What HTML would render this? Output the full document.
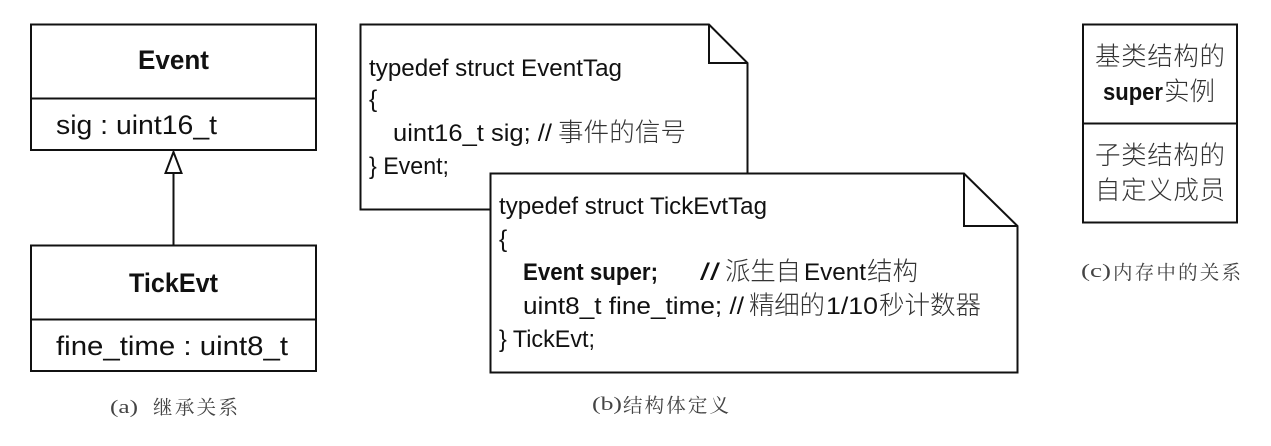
<!DOCTYPE html>
<html><head><meta charset="utf-8">
<style>
html,body{margin:0;padding:0;background:#fff;width:1271px;height:446px;overflow:hidden}
svg{display:block}
text{fill:#111;font-family:"Liberation Sans","Noto Sans CJK SC",sans-serif}
.l{font-size:24.5px}
.t{font-size:27px}
.b{font-weight:bold}
.c{font-family:"Noto Sans CJK SC","WenQuanYi Zen Hei",sans-serif;font-weight:300;fill:#333;font-size:25.5px}
.s{font-family:"Liberation Serif",serif;fill:#444;font-size:19px}
.sc{font-family:"Noto Serif CJK SC","Noto Sans CJK SC",serif;fill:#444;font-size:19.5px}
</style></head><body>
<svg width="1271" height="446" viewBox="0 0 1271 446" xmlns="http://www.w3.org/2000/svg">
<g fill="#fff" stroke="#111" stroke-width="2">
<rect x="31" y="24.5" width="285" height="125.5"/><path d="M31 98.5H316" fill="none"/>
<rect x="31" y="245.5" width="285" height="125.5"/><path d="M31 319.5H316" fill="none"/>
<path d="M173.5 245V173" fill="none"/><path d="M173.5 152L165.5 173H181.5z"/>
<path d="M360.5 24.5H709L747.5 63V209.5H360.5z"/><path d="M709 24.5V63H747.5" fill="none"/>
<path d="M490.5 173.5H964L1017.5 226V372.5H490.5z"/><path d="M964 173.5V226H1017.5" fill="none"/>
<rect x="1083" y="24.5" width="154" height="198"/><path d="M1083 123.5H1237" fill="none"/>
</g>
<text class="t b" x="138" y="69" textLength="71" lengthAdjust="spacingAndGlyphs">Event</text>
<text class="t" x="56" y="134" textLength="161" lengthAdjust="spacingAndGlyphs">sig : uint16_t</text>
<text class="t b" x="129" y="292" textLength="89" lengthAdjust="spacingAndGlyphs">TickEvt</text>
<text class="t" x="56" y="355" textLength="232" lengthAdjust="spacingAndGlyphs">fine_time : uint8_t</text>
<text class="s" x="110" y="413" textLength="28" lengthAdjust="spacingAndGlyphs">(a)</text>
<text class="sc" x="153" y="414" textLength="85" lengthAdjust="spacing">继承关系</text>

<text class="l" x="369" y="76" textLength="253" lengthAdjust="spacingAndGlyphs">typedef struct EventTag</text>
<text class="l" x="369" y="107">{</text>
<text class="l" x="393" y="141" textLength="159" lengthAdjust="spacingAndGlyphs">uint16_t sig; //</text>
<text class="c" x="558" y="141" textLength="128">事件的信号</text>
<text class="l" x="369" y="174" textLength="80" lengthAdjust="spacingAndGlyphs">} Event;</text>

<text class="l" x="499" y="214" textLength="268" lengthAdjust="spacingAndGlyphs">typedef struct TickEvtTag</text>
<text class="l" x="499" y="247">{</text>
<text class="l b" x="523" y="280" textLength="135" lengthAdjust="spacingAndGlyphs">Event super;</text>
<text class="l" x="700" y="280" textLength="20" lengthAdjust="spacingAndGlyphs">//</text>
<text class="c" x="725" y="280" textLength="76">派生自</text>
<text class="l" x="804" y="280" textLength="62" lengthAdjust="spacingAndGlyphs">Event</text>
<text class="c" x="867" y="280" textLength="51">结构</text>
<text class="l" x="523" y="314" textLength="221" lengthAdjust="spacingAndGlyphs">uint8_t fine_time; //</text>
<text class="c" x="749" y="314" textLength="76">精细的</text>
<text class="l" x="826" y="314" textLength="52" lengthAdjust="spacingAndGlyphs">1/10</text>
<text class="c" x="879" y="314" textLength="102">秒计数器</text>
<text class="l" x="499" y="347" textLength="96" lengthAdjust="spacingAndGlyphs">} TickEvt;</text>
<text class="s" x="592" y="410" textLength="30" lengthAdjust="spacingAndGlyphs">(b)</text>
<text class="sc" x="623" y="412" textLength="106">结构体定义</text>

<text class="c" x="1095" y="65" textLength="130">基类结构的</text>
<text class="l b" x="1103" y="100" textLength="60" lengthAdjust="spacingAndGlyphs">super</text>
<text class="c" x="1164" y="100" textLength="51">实例</text>
<text class="c" x="1095" y="164" textLength="130">子类结构的</text>
<text class="c" x="1095" y="199" textLength="130">自定义成员</text>
<text class="s" x="1081" y="277" textLength="30" lengthAdjust="spacingAndGlyphs">(c)</text>
<text class="sc" x="1113" y="279" textLength="128">内存中的关系</text>
</svg>
</body></html>
